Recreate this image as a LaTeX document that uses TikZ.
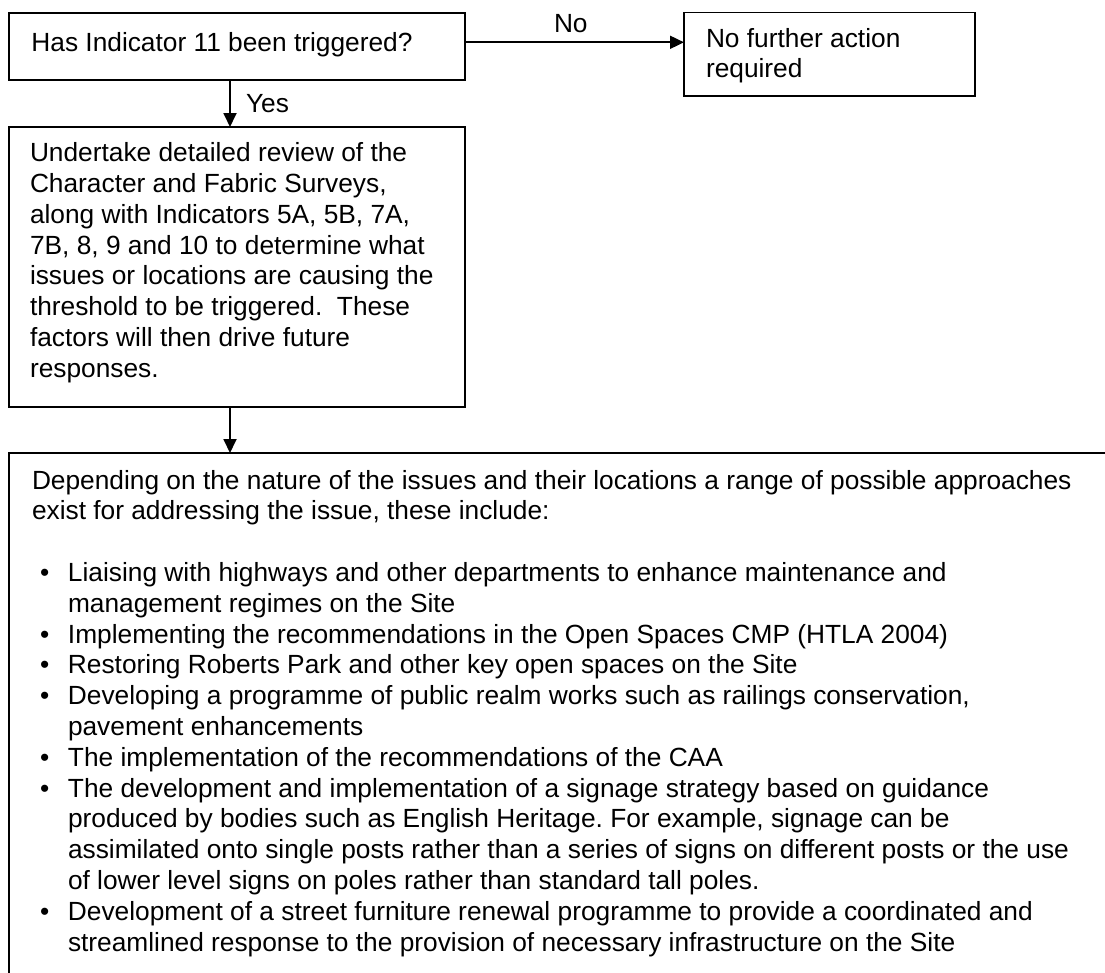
\documentclass[tikz,border=0pt]{standalone}
\usepackage{fontspec}
\setmainfont{Liberation Sans}
\usetikzlibrary{arrows.meta}
\frenchspacing

\begin{document}
\begin{tikzpicture}[x=1pt, y=-1pt,
  every node/.style={inner sep=0pt, outer sep=0pt},
  boxstyle/.style={draw, line width=1.8pt, anchor=north west, fill=none},
  txt/.style={anchor=base west, font=\fontsize{26.3}{30.8}\selectfont},
  flow/.style={line width=1.8pt, -{Triangle[length=14pt, width=13pt]}}
]
\useasboundingbox (0,0) rectangle (1105,972);

% boxes (corner positions, sizes)
\node[boxstyle, minimum width=456pt, minimum height=67.3pt] (box1) at (9,12.7) {};
\node[boxstyle, minimum width=291pt, minimum height=83.5pt] (box2) at (684,12.5) {};
\node[boxstyle, minimum width=456pt, minimum height=280pt] (box3) at (9,127) {};
\node[boxstyle, minimum width=1200pt, minimum height=620pt] (box4) at (9,453) {};

% box texts
\node[txt] (t1) at (31.4,51) {Has Indicator 11 been triggered?};
\node[txt] (t2) at (706,47) {\parbox[t]{260pt}{\raggedright No further action\\required}};
\node[txt] (t3) at (30,161.7) {\parbox[t]{430pt}{\raggedright
  Undertake detailed review of the\\
  Character and Fabric Surveys,\\
  along with Indicators 5A, 5B, 7A,\\
  7B, 8, 9 and 10 to determine what\\
  issues or locations are causing the\\
  threshold to be triggered.~ These\\
  factors will then drive future\\
  responses.}};
% one bulleted entry: hanging indent kept across \newline breaks
\newcommand{\bulletitem}{\par\hangindent=36pt\hangafter=1\noindent\makebox[36pt][l]{\hspace{8pt}\textbullet}}
\node[txt] (t4) at (32,489) {\parbox[t]{1100pt}{\raggedright
  Depending on the nature of the issues and their locations a range of possible approaches\\
  exist for addressing the issue, these include:\\[30.8pt]
  \bulletitem Liaising with highways and other departments to enhance maintenance and\newline
    management regimes on the Site
  \bulletitem Implementing the recommendations in the Open Spaces CMP (HTLA 2004)
  \bulletitem Restoring Roberts Park and other key open spaces on the Site
  \bulletitem Developing a programme of public realm works such as railings conservation,\newline
    pavement enhancements
  \bulletitem The implementation of the recommendations of the CAA
  \bulletitem The development and implementation of a signage strategy based on guidance\newline
    produced by bodies such as English Heritage. For example, signage can be\newline
    assimilated onto single posts rather than a series of signs on different posts or the use\newline
    of lower level signs on poles rather than standard tall poles.
  \bulletitem Development of a street furniture renewal programme to provide a coordinated and\newline
    streamlined response to the provision of necessary infrastructure on the Site\par}};

% connectors
\coordinate (ax) at (230,0);
\coordinate (ny) at (0,42.3);
\draw[flow] (box1.south -| ax) -- (box3.north -| ax);
\draw[flow] (box3.south -| ax) -- (box4.north -| ax);
\draw[flow] (box1.east |- ny) -- (box2.west |- ny);

% connector labels
\node[txt] (yes) at (246,112) {Yes};
\node[txt] (no) at (554,32) {No};
\end{tikzpicture}
\end{document}
